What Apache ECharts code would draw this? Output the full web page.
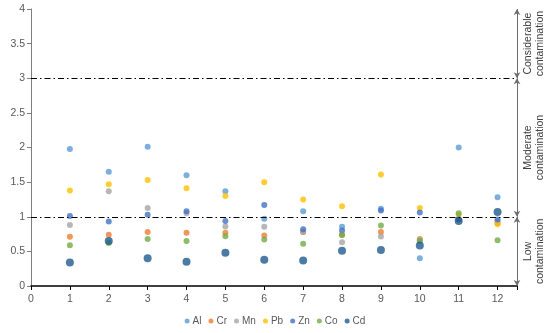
<!DOCTYPE html>
<html><head><meta charset="utf-8">
<script src="https://cdn.jsdelivr.net/npm/echarts@6/dist/echarts.min.js"></script>
<style>html,body{margin:0;padding:0;background:#fff}#c{width:550px;height:333px}</style>
</head><body><div id="c"></div>
<script>
var sites = [1,2,3,4,5,6,7,8,9,10,11,12];
var Al = [1.98,1.65,2.01,1.60,1.37,0.97,1.08,0.855,1.115,0.40,2.00,1.28];
var Cr = [0.71,0.74,0.78,0.77,0.77,0.73,0.78,0.74,0.78,0.68,0.96,0.91];
var Mn = [0.88,1.37,1.125,1.05,0.86,0.855,0.78,0.63,0.715,0.66,0.96,0.93];
var Pb = [1.38,1.47,1.53,1.41,1.30,1.50,1.25,1.15,1.61,1.125,1.03,0.89];
var Zn = [1.01,0.93,1.03,1.08,0.94,1.17,0.82,0.80,1.09,1.06,0.965,0.96];
var Co = [0.59,0.62,0.68,0.65,0.72,0.67,0.61,0.735,0.875,0.65,1.05,0.66];
var Cd = [0.34,0.65,0.40,0.35,0.48,0.38,0.37,0.51,0.52,0.585,0.94,1.07];
var yTicks = [0,0.5,1,1.5,2,2.5,3,3.5,4];
var thresholds = [1,3];
var zones = [[3,4],[1,3],[0,1]];
var zoneLabels = ['Considerable\ncontamination','Moderate\ncontamination','Low\ncontamination'];

var names = ['Al','Cr','Mn','Pb','Zn','Co','Cd'];
var vals = [Al,Cr,Mn,Pb,Zn,Co,Cd];
var colors = ['#5B9BD5','#ED7D31','#A5A5A5','#FFC000','#4472C4','#70AD47','#1F5A8E'];

var series = names.map(function(n,i){
  return {
    name:n, type:'scatter',
    symbolSize: n==='Cd'?8:6,
    itemStyle:{color:colors[i]},
    data: sites.map(function(s,j){return [s, vals[i][j]];})
  };
});
series.push({
  type:'scatter', data:[], silent:true,
  markLine:{
    silent:true, symbol:['none','none'], label:{show:false},
    lineStyle:{color:'#000',width:1,type:[6,3,1.5,3]},
    data: thresholds.map(function(t){return {yAxis:t};})
  }
});
series.push({
  type:'scatter', data:[], silent:true,
  markLine:{
    silent:true, symbol:['arrow','arrow'], symbolSize:[5,6], label:{show:false},
    lineStyle:{color:'#6e6e6e',width:1,type:'solid'},
    data: zones.map(function(z){return [{coord:[12.5,z[1]]},{coord:[12.5,z[0]]}];})
  }
});

var chart = echarts.init(document.getElementById('c'));
var yToPx = function(v){return chart.convertToPixel({yAxisIndex:0}, v);};
chart.setOption({
  animation:false,
  grid:{left:31,right:33,top:9,bottom:47,containLabel:false},
  legend:{
    bottom:2, left:'center', icon:'circle', itemWidth:5, itemHeight:5, itemGap:7,
    textStyle:{color:'#595959',fontSize:10,fontFamily:'Liberation Sans',padding:[0,0,0,-2]},
    data:names
  },
  xAxis:{
    type:'value', min:0, max:12.5, interval:1,
    axisLine:{lineStyle:{color:'#000',width:1.5}},
    axisTick:{show:true,length:4,lineStyle:{color:'#000'}},
    axisLabel:{color:'#595959',fontSize:10.5,fontFamily:'Liberation Sans',margin:8,
      formatter:function(v){return v===12.5?'':String(v);}},
    splitLine:{show:false}
  },
  yAxis:{
    type:'value', min:0, max:4, interval:0.5,
    axisLine:{show:true,lineStyle:{color:'#7f7f7f',width:1}},
    axisTick:{show:true,length:4,lineStyle:{color:'#7f7f7f'}},
    axisLabel:{color:'#595959',fontSize:10.5,fontFamily:'Liberation Sans',margin:6},
    splitLine:{show:false}
  },
  series:series
});
var gr = zones.map(function(z,i){
  var yc = (yToPx(z[0]) + yToPx(z[1]))/2;
  return {
    type:'text', x:534, y:yc, rotation:Math.PI/2,
    style:{text:zoneLabels[i], fill:'#404040', font:'10.5px "Liberation Sans"',
      align:'center', verticalAlign:'middle', lineHeight:12}
  };
});
chart.setOption({graphic:gr});
</script></body></html>
